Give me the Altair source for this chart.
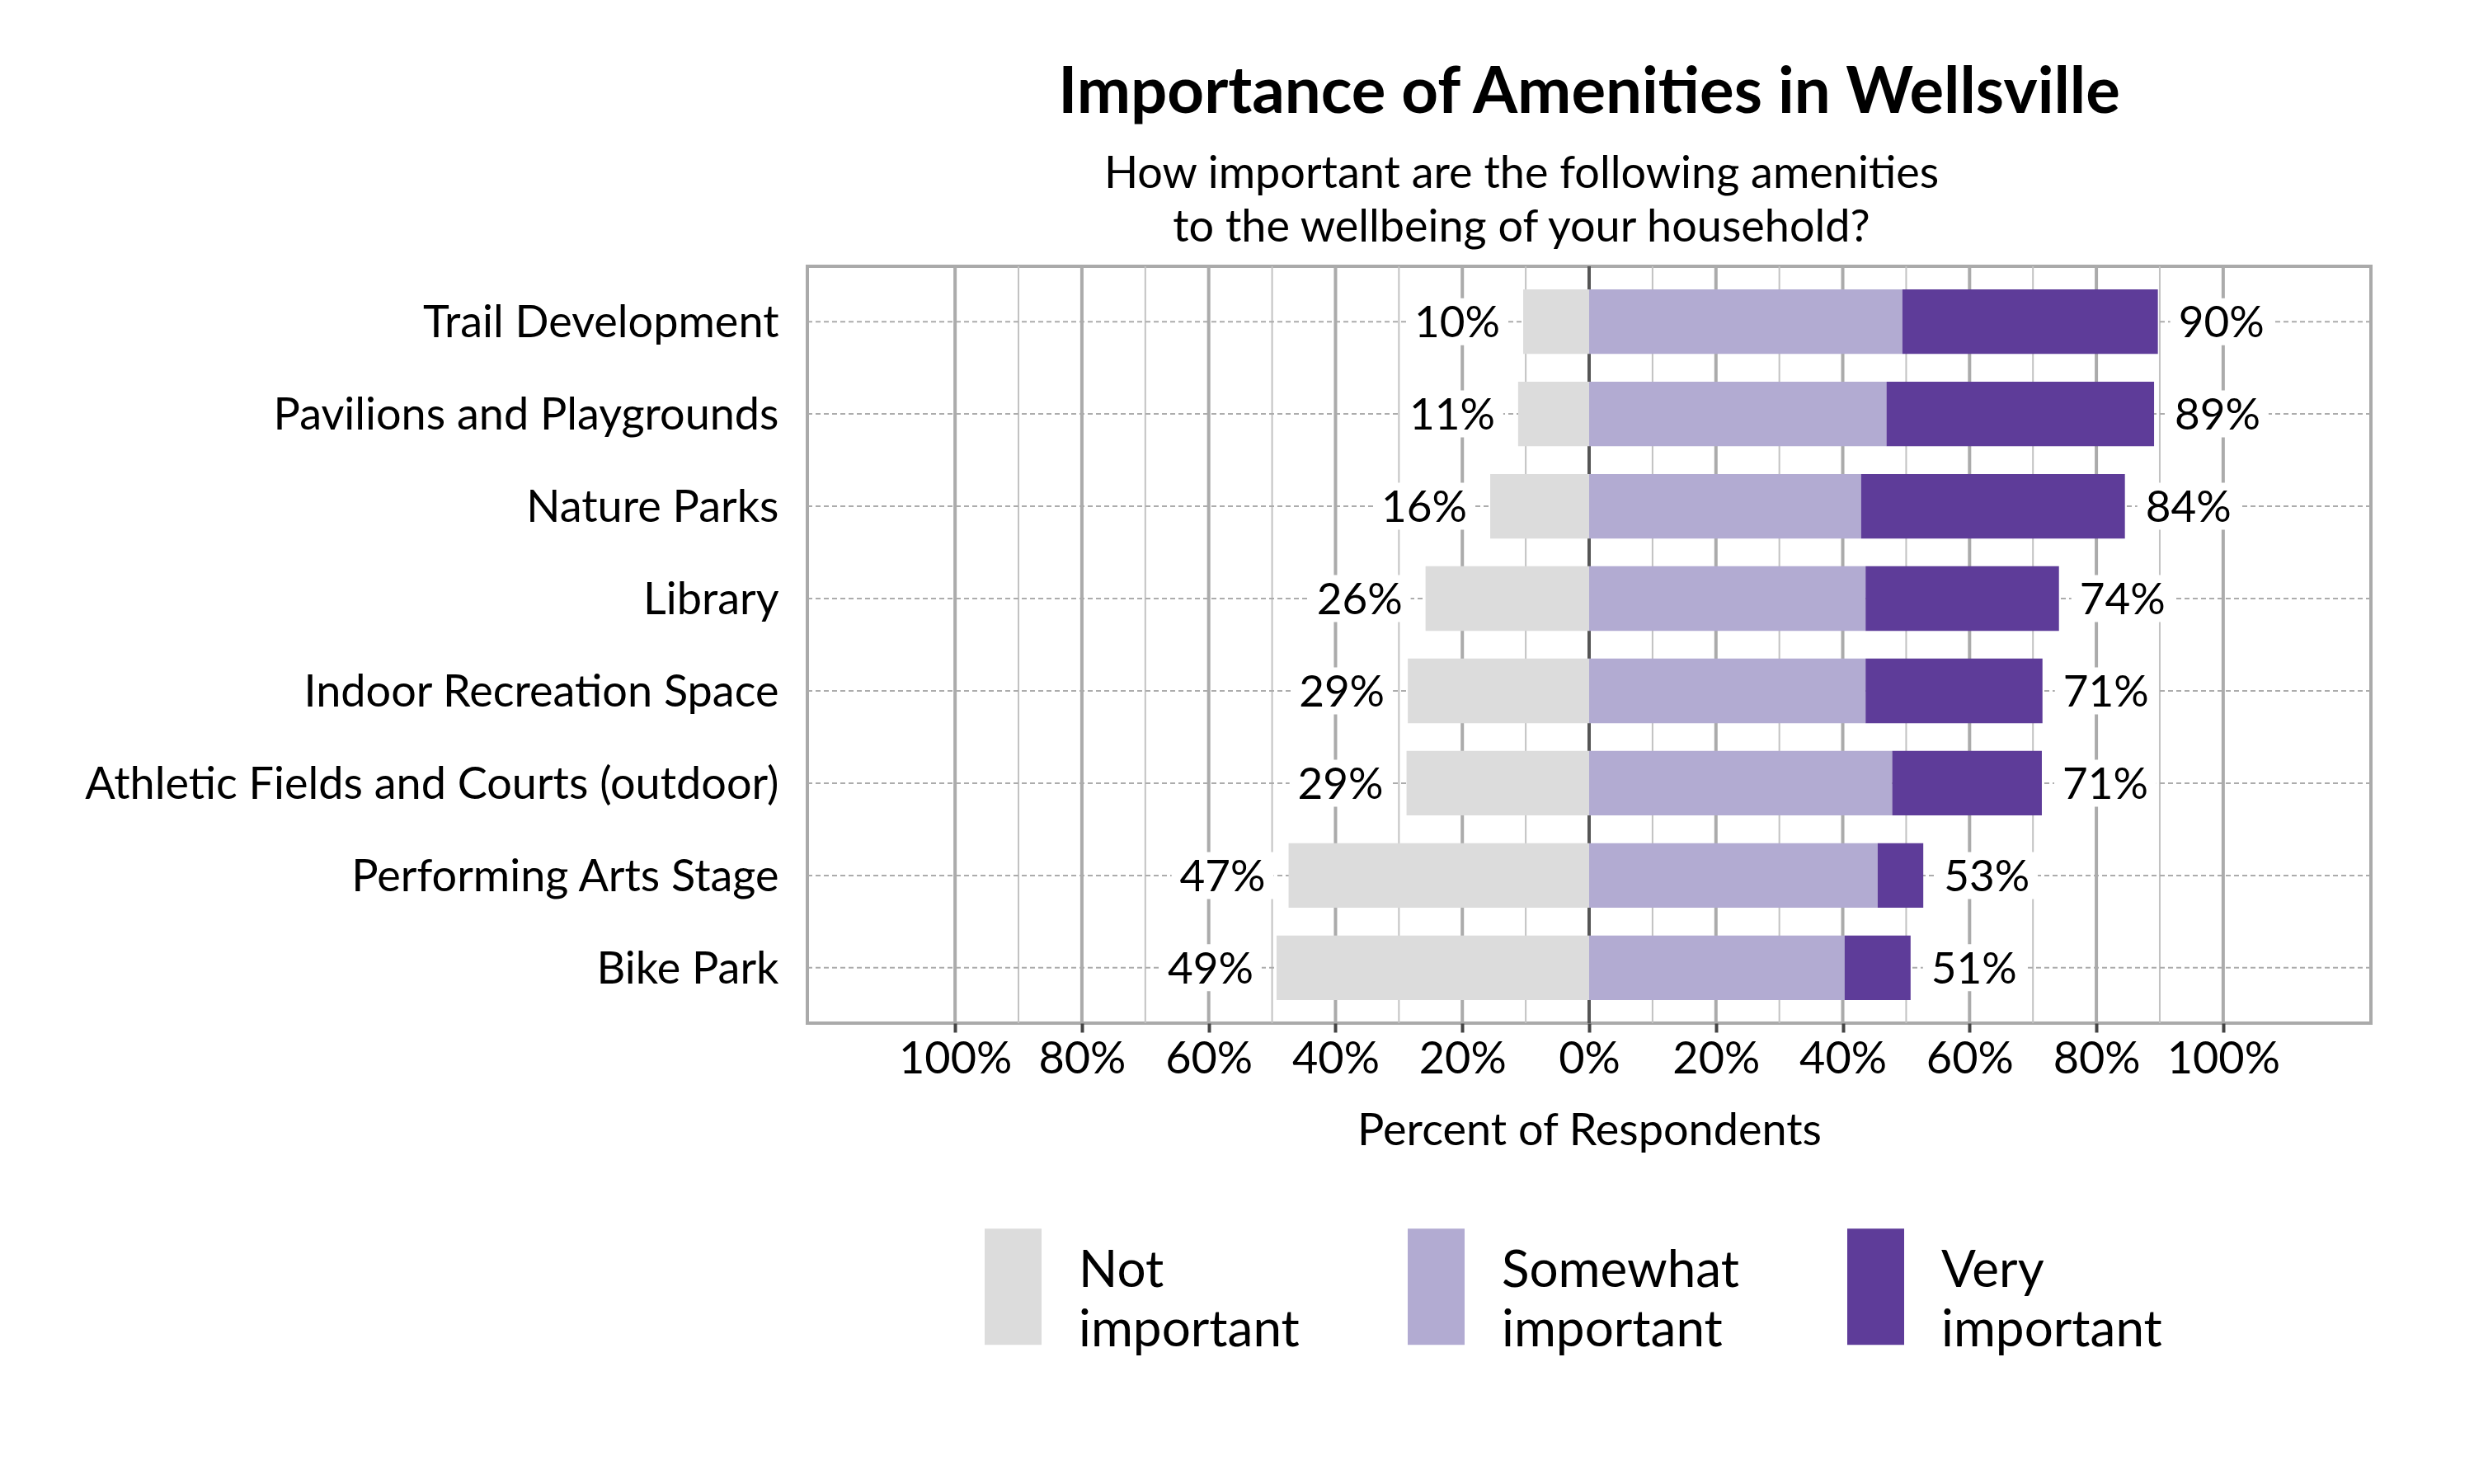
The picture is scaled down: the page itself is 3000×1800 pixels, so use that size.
import altair as alt
import pandas as pd

# ---------------- data ----------------
items = ["Trail Development", "Pavilions and Playgrounds", "Nature Parks", "Library",
         "Indoor Recreation Space", "Athletic Fields and Courts (outdoor)",
         "Performing Arts Stage", "Bike Park"]
not_important = [10.4, 11.2, 15.6, 25.8, 28.6, 28.8, 47.4, 49.3]
somewhat_important = [49.4, 46.9, 42.9, 43.6, 43.6, 47.8, 45.5, 40.3]
very_important = [40.3, 42.2, 41.6, 30.5, 27.9, 23.6, 7.2, 10.4]
low_labels = ["10%", "11%", "16%", "26%", "29%", "29%", "47%", "49%"]
high_labels = ["90%", "89%", "84%", "74%", "71%", "71%", "53%", "51%"]
categories = ["Not important", "Somewhat important", "Very important"]
cat_colors = ["#dcdcdc", "#b2abd2", "#5e3c99"]
tick_values = [-100, -80, -60, -40, -20, 0, 20, 40, 60, 80, 100]
minor_grid = [-90, -70, -50, -30, -10, 10, 30, 50, 70, 90]
major_grid = [-100, -80, -60, -40, -20, 20, 40, 60, 80, 100]
zero_line = [0]

TITLE = "Importance of Amenities in Wellsville"
SUBTITLE = ["How important are the following amenities",
            "to the wellbeing of your household?"]
XTITLE = "Percent of Respondents"

# ---------------- layout constants ----------------
W, H = 1896, 918
XDOM = 123.3
PPU = W / (2 * XDOM)
FONT = "Lato"
LAB_FS = 53

# ---------------- tables ----------------
rows = []
for i, it in enumerate(items):
    s = somewhat_important[i]
    v = very_important[i]
    rows.append({"item": it, "cat": categories[0], "start": -not_important[i], "end": 0.0})
    rows.append({"item": it, "cat": categories[1], "start": 0.0, "end": s})
    rows.append({"item": it, "cat": categories[2], "start": s, "end": s + v})
bars_df = pd.DataFrame(rows)


def est_w(t):
    return LAB_FS * (0.58 * (len(t) - 1) + 0.80)


lab_rows = []
for i, it in enumerate(items):
    lo = -not_important[i]
    hi = somewhat_important[i] + very_important[i]
    wl = est_w(low_labels[i])
    wh = est_w(high_labels[i])
    lab_rows.append({
        "item": it, "lo": lo, "hi": hi,
        "lo_text": low_labels[i], "hi_text": high_labels[i],
        "lo_b1": lo - 18 / PPU, "lo_b2": lo - (28 + wl + 10) / PPU,
        "hi_b1": hi + 15 / PPU, "hi_b2": hi + (25 + wh + 10) / PPU,
    })
lab_df = pd.DataFrame(lab_rows)

xscale = alt.Scale(domain=[-XDOM, XDOM], nice=False, zero=False)
yscale = alt.Scale(domain=items, paddingInner=0.3, paddingOuter=0.25)

x_axis = alt.Axis(values=tick_values, labelExpr="abs(datum.value) + '%'", grid=False,
                  domain=False, ticks=True, tickColor="#444444", tickWidth=4, tickSize=11,
                  labelFont=FONT, labelFontSize=54, labelColor="black", labelPadding=6,
                  labelOverlap=False, labelFlush=False,
                  title=XTITLE, titleFont=FONT, titleFontSize=54, titleFontWeight="normal",
                  titleColor="black", titleBaseline="alphabetic", titleY=147, titleX=W / 2,
                  titleAlign="center", titleAngle=0)
y_axis = alt.Axis(title=None, ticks=False, tickSize=0, domain=False, grid=False,
                  labelFont=FONT, labelFontSize=54, labelColor="black", labelPadding=35,
                  labelLimit=2000, labelOffset=3)


def X(field):
    return alt.X(field, scale=xscale, axis=x_axis, title=XTITLE)


def Y():
    return alt.Y("item:N", scale=yscale, sort=items, axis=y_axis, title=None)


minor = alt.Chart(pd.DataFrame({"v": minor_grid})).mark_rule(
    color="#c2c2c2", strokeWidth=2).encode(x=X("v:Q"))
major = alt.Chart(pd.DataFrame({"v": major_grid})).mark_rule(
    color="#ababab", strokeWidth=4).encode(x=X("v:Q"))
zero = alt.Chart(pd.DataFrame({"v": zero_line})).mark_rule(
    color="#555555", strokeWidth=4).encode(x=X("v:Q"))
hgrid = alt.Chart(pd.DataFrame({"item": items})).mark_rule(
    color="#acacac", strokeWidth=2, strokeDash=[6, 4]).encode(y=Y())

box_lo = alt.Chart(lab_df).mark_bar(color="white", height=57).encode(
    x=X("lo_b2:Q"), x2="lo_b1:Q", y=Y())
box_hi = alt.Chart(lab_df).mark_bar(color="white", height=57).encode(
    x=X("hi_b1:Q"), x2="hi_b2:Q", y=Y())

legend = alt.Legend(
    title=None, orient="none", legendX=179, legendY=1167, direction="horizontal",
    columns=3, symbolType="M-0.4894,-1H0.4894V1H-0.4894Z", symbolSize=19881,
    symbolStrokeWidth=0, symbolOpacity=1, labelFont=FONT, labelFontSize=62,
    labelColor="black", labelExpr="split(datum.label, ' ')", labelOffset=9,
    columnPadding=95, padding=0, labelLimit=2000, labelBaseline="alphabetic")

bars = alt.Chart(bars_df).mark_bar().encode(
    x=X("start:Q"), x2="end:Q", y=Y(),
    color=alt.Color("cat:N", scale=alt.Scale(domain=categories, range=cat_colors),
                    legend=legend))

txt_lo = alt.Chart(lab_df).mark_text(align="right", baseline="middle", dx=-28, dy=3,
                                     font=FONT, fontSize=LAB_FS, color="black").encode(
    x=X("lo:Q"), y=Y(), text="lo_text:N")
txt_hi = alt.Chart(lab_df).mark_text(align="left", baseline="middle", dx=25, dy=3,
                                     font=FONT, fontSize=LAB_FS, color="black").encode(
    x=X("hi:Q"), y=Y(), text="hi_text:N")

title_t = alt.Chart(pd.DataFrame({"t": [TITLE]})).mark_text(
    align="center", baseline="alphabetic", font=FONT, fontSize=78, fontWeight="bold",
    color="black").encode(text="t:N", x=alt.value(W / 2), y=alt.value(137 - 323.3))
sub1 = alt.Chart(pd.DataFrame({"t": [SUBTITLE[0]]})).mark_text(
    align="center", baseline="alphabetic", font=FONT, fontSize=54, color="black").encode(
    text="t:N", x=alt.value(866), y=alt.value(228 - 323.3))
sub2 = alt.Chart(pd.DataFrame({"t": [SUBTITLE[1]]})).mark_text(
    align="center", baseline="alphabetic", font=FONT, fontSize=54, color="black").encode(
    text="t:N", x=alt.value(866), y=alt.value(293 - 323.3))

chart = alt.layer(minor, major, zero, hgrid, box_lo, box_hi, bars, txt_lo, txt_hi,
                  title_t, sub1, sub2).properties(
    width=W, height=H,
    padding={"left": 971, "top": 315, "right": 110, "bottom": 540},
    autosize=alt.AutoSizeParams(type="none"),
).configure(
    style={"guide-label": {"lineHeight": 72}}
).configure_view(stroke="#aaaaaa", strokeWidth=4)

chart.save("out.html", embed_options={"renderer": "svg", "actions": False})
